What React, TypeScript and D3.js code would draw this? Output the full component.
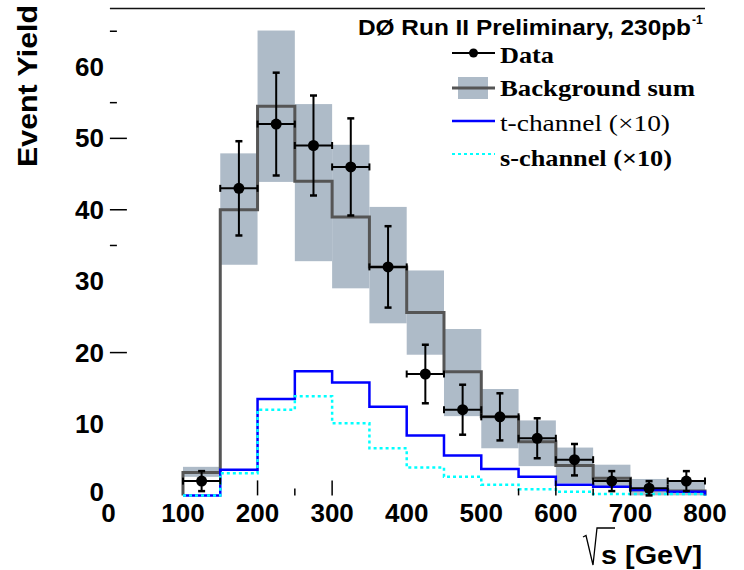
import React from 'react';
import * as d3 from 'd3';

// ---- data ----
const binEdges = [100, 150, 200, 250, 300, 350, 400, 450, 500, 550, 600, 650, 700, 750, 800];
const dataCounts = [2, 43, 52, 49, 46, 32, 17, 12, 11, 8, 5, 2, 1, 2];
const dataErrors = [1.4, 6.6, 7.2, 7.0, 6.8, 5.7, 4.1, 3.5, 3.3, 2.8, 2.2, 1.4, 1.0, 1.4];
const bkgSum = [3.2, 40.0, 54.5, 44.0, 39.0, 32.0, 25.6, 17.3, 11.0, 7.5, 4.2, 2.4, 0.8, 0.6];
const bkgHigh = [4.0, 47.9, 65.1, 54.8, 49.1, 40.4, 31.5, 23.3, 14.9, 10.5, 6.7, 4.3, 2.3, 2.1];
const bkgLow = [2.6, 32.3, 43.9, 32.8, 29.0, 24.1, 19.7, 11.1, 6.6, 4.1, 1.7, 1.2, 0, 0];
const tChannel = [0, 3.6, 13.5, 17.4, 15.8, 12.4, 8.4, 5.6, 3.7, 2.6, 1.5, 1.2, 0.75, 0.5];
const sChannel = [0, 3.1, 12.0, 13.9, 10.1, 6.6, 3.9, 2.6, 1.5, 0.85, 0.5, 0.2, 0.2, 0.2];

const yTickLabels = [0, 10, 20, 30, 40, 50, 60];
const yMajorTicks = [20, 40, 50];
const yMinorTicks = [35, 55, 65];
const xTickLabels = [0, 100, 200, 300, 400, 500, 600, 700, 800];
const xMajorTicks = [200, 300, 600, 700];
const xMinorTicks = [250, 550, 650, 750];

const legendItems = ['Data', 'Background sum', 't-channel (\u00d710)', 's-channel (\u00d710)'];

const BAND = '#aebbc8';
const BKG = '#555555';
const BLUE = '#0000ff';
const CYAN = '#00ffff';

export default function App() {
  const x = d3.scaleLinear().domain([0, 800]).range([108.4, 705]);
  const y = d3.scaleLinear().domain([0, 68.2]).range([495.4, 8.4]);

  const stepPath = (vals: number[]) => {
    const pts: [number, number][] = [[binEdges[0], 0]];
    vals.forEach((v, i) => pts.push([binEdges[i], v]));
    pts.push([binEdges[binEdges.length - 1], vals[vals.length - 1]]);
    pts.push([binEdges[binEdges.length - 1], 0]);
    return d3
      .line<[number, number]>()
      .x((d) => x(d[0]))
      .y((d) => y(d[1]))
      .curve(d3.curveStepAfter)(pts) as string;
  };

  const sans = 'Liberation Sans, Arial, sans-serif';
  const serif = 'Liberation Serif, Times New Roman, serif';

  const lx0 = 452;
  const lx1 = 495;
  const legRows = [53, 88, 121, 154];
  const legBase = [63, 96, 131, 166];
  const legLen = [54, 195, 170, 172];

  return (
    <svg
      width={744}
      height={570}
      style={{ position: 'absolute', left: 0, top: 0, background: '#fff' }}
    >
      <rect x={0} y={0} width={744} height={570} fill="#fff" />
      {/* top frame line */}
      <line x1={x(0) + 1.5} x2={x(800)} y1={y(68.2)} y2={y(68.2)} stroke="#111" strokeWidth={1.5} />

      {/* background band */}
      {bkgHigh.map((h, i) => (
        <rect
          key={'b' + i}
          x={x(binEdges[i])}
          width={x(binEdges[i + 1]) - x(binEdges[i])}
          y={y(h)}
          height={y(bkgLow[i]) - y(h)}
          fill={BAND}
        />
      ))}

      {/* background sum */}
      <path d={stepPath(bkgSum)} fill="none" stroke={BKG} strokeWidth={3} />
      {/* t-channel */}
      <path d={stepPath(tChannel)} fill="none" stroke={BLUE} strokeWidth={2.5} />
      {/* s-channel */}
      <path d={stepPath(sChannel)} fill="none" stroke={CYAN} strokeWidth={2.5} strokeDasharray="3,3" />

      {/* data */}
      {dataCounts.map((v, i) => {
        const cx = x((binEdges[i] + binEdges[i + 1]) / 2);
        const cy = y(v);
        const xl = x(binEdges[i]);
        const xr = x(binEdges[i + 1]);
        const yt = y(v + dataErrors[i]);
        const yb = y(Math.max(0, v - dataErrors[i]));
        return (
          <g key={'d' + i} stroke="#000">
            <line x1={xl} x2={xr} y1={cy} y2={cy} strokeWidth={2} />
            <line x1={xl} x2={xl} y1={cy - 3.5} y2={cy + 3.5} strokeWidth={2} />
            <line x1={xr} x2={xr} y1={cy - 3.5} y2={cy + 3.5} strokeWidth={2} />
            <line x1={cx} x2={cx} y1={yt} y2={yb} strokeWidth={2} />
            <line x1={cx - 3.5} x2={cx + 3.5} y1={yt} y2={yt} strokeWidth={2.5} />
            <line x1={cx - 3.5} x2={cx + 3.5} y1={yb} y2={yb} strokeWidth={2.5} />
            <circle cx={cx} cy={cy} r={5.5} fill="#000" stroke="none" />
          </g>
        );
      })}

      {/* y ticks */}
      {yMajorTicks.map((t) => (
        <line key={'ym' + t} x1={x(0) + 1.5} x2={x(0) + 18.5} y1={y(t)} y2={y(t)} stroke="#000" strokeWidth={1.5} />
      ))}
      {yMinorTicks.map((t) => (
        <line key={'yn' + t} x1={x(0) + 1.5} x2={x(0) + 8.5} y1={y(t)} y2={y(t)} stroke="#000" strokeWidth={1.5} />
      ))}
      {yTickLabels.map((t) => (
        <text
          key={'yl' + t}
          x={104}
          y={y(t) + (t === 0 ? 5.5 : 9)}
          textAnchor="end"
          fontFamily={sans}
          fontWeight="bold"
          fontSize={26}
          fill="#000"
        >
          {t}
        </text>
      ))}

      {/* x ticks */}
      {xMajorTicks.map((t) => (
        <line key={'xm' + t} x1={x(t)} x2={x(t)} y1={y(0)} y2={y(0) - 15} stroke="#000" strokeWidth={1.5} />
      ))}
      {xMinorTicks.map((t) => (
        <line key={'xn' + t} x1={x(t)} x2={x(t)} y1={y(0)} y2={y(0) - 7} stroke="#000" strokeWidth={1.5} />
      ))}
      {xTickLabels.map((t) => (
        <text
          key={'xl' + t}
          x={x(t)}
          y={522}
          textAnchor="middle"
          fontFamily={sans}
          fontWeight="bold"
          fontSize={26}
          fill="#000"
        >
          {t}
        </text>
      ))}

      {/* axis titles */}
      <text
        transform="translate(37,86) rotate(-90)"
        textAnchor="middle"
        fontFamily={sans}
        fontWeight="bold"
        fontSize={28}
        textLength={162}
        lengthAdjust="spacingAndGlyphs"
        fill="#000"
      >
        Event Yield
      </text>
      {/* radical sign of the x-axis title */}
      <path
        d="M583,537 L586,535.5 L593,565 L597,528 L615,528"
        fill="none"
        stroke="#000"
        strokeWidth={1.3}
      />
      <text
        x={601}
        y={564}
        fontFamily={sans}
        fontWeight="bold"
        fontSize={26}
        textLength={101}
        lengthAdjust="spacingAndGlyphs"
        fill="#000"
      >
        s [GeV]
      </text>

      {/* title */}
      <text
        x={358}
        y={35}
        fontFamily={sans}
        fontWeight="bold"
        fontSize={22}
        textLength={333}
        lengthAdjust="spacingAndGlyphs"
        fill="#000"
      >
        {'D\u00d8 Run II Preliminary, 230pb'}
      </text>
      <text x={692} y={24} fontFamily={sans} fontWeight="bold" fontSize={12} fill="#000">
        -1
      </text>

      {/* legend */}
      <g>
        <line x1={lx0} x2={lx1} y1={legRows[0]} y2={legRows[0]} stroke="#000" strokeWidth={2} />
        <circle cx={(lx0 + lx1) / 2} cy={legRows[0]} r={4.5} fill="#000" />
        <rect x={458} y={legRows[1] - 11} width={30} height={22} fill={BAND} />
        <line x1={lx0} x2={lx1} y1={legRows[1]} y2={legRows[1]} stroke={BKG} strokeWidth={3} />
        <line x1={lx0} x2={lx1} y1={legRows[2]} y2={legRows[2]} stroke={BLUE} strokeWidth={2.5} />
        <line x1={lx0} x2={lx1} y1={legRows[3]} y2={legRows[3]} stroke={CYAN} strokeWidth={2} strokeDasharray="3,3" />
        {legendItems.map((t, i) => (
          <text
            key={'lg' + i}
            x={500}
            y={legBase[i]}
            fontFamily={serif}
            fontWeight={i === 2 ? 'normal' : 'bold'}
            fontSize={24}
            textLength={legLen[i]}
            lengthAdjust="spacingAndGlyphs"
            fill="#000"
          >
            {t}
          </text>
        ))}
      </g>
    </svg>
  );
}
